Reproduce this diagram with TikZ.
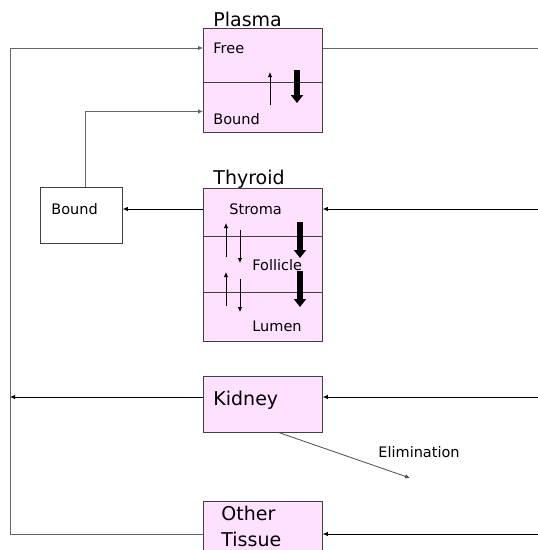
\documentclass[tikz,border=0pt]{standalone}
\usepackage{fontspec}
\setmainfont{DejaVu Sans}
\usepackage{xcolor}
\usetikzlibrary{arrows.meta,positioning}
\definecolor{organpink}{RGB}{255,224,255}

\begin{document}
\begin{tikzpicture}[x=1pt, y=-1pt, line width=0.8pt, >={Latex[length=5pt,width=4.5pt]},
    organ/.style={rectangle, draw=black!75, fill=organpink, minimum width=119pt, inner sep=0pt},
    side/.style={font=\fontsize{14.5}{17}\selectfont, inner sep=0pt},
    title/.style={font=\fontsize{19}{26}\selectfont, inner sep=0pt},
    bulk/.style={line width=5.5pt, -{Triangle[length=8pt,width=12pt]}}]

    \useasboundingbox (0,0) rectangle (538,550);
    \clip (0,0) rectangle (538,550);

    % Nodes
    \node[organ, minimum height=104pt, anchor=north west] (plasma) at (203,28) {};
    \node[organ, minimum height=153pt, below=55pt of plasma] (thyroid) {};
    \node[organ, minimum height=56pt, below=34pt of thyroid] (kidney) {};
    \node[organ, minimum height=76pt, below=69pt of kidney] (other) {};
    \node[rectangle, draw=black!75, minimum width=82pt, minimum height=56pt, anchor=north west] (bound) at (40,187) {};

    % Compartment lines
    \draw[black!75] ([yshift=-54pt]plasma.north west) -- ([yshift=-54pt]plasma.north east);
    \draw[black!75] ([yshift=-49pt]thyroid.north west) -- ([yshift=-49pt]thyroid.north east);
    \draw[black!75] ([yshift=-105pt]thyroid.north west) -- ([yshift=-105pt]thyroid.north east);

    % Labels
    \node[title, anchor=base west] (plasmalbl) at (213,26) {Plasma};
    \node[title, anchor=base west] (thyroidlbl) at (213,184) {Thyroid};
    \node[side, anchor=west] (free) at (213,48) {Free};
    \node[side, anchor=west] (pbound) at (213,119) {Bound};
    \node[side, anchor=west] (boundlbl) at (51,209) {Bound};
    \node[side, anchor=west] (stroma) at (229,209) {Stroma};
    \node[side, anchor=west] (follicle) at (252,265) {Follicle};
    \node[side, anchor=west] (lumen) at (252,326) {Lumen};
    \node[title, anchor=west] (kidneylbl) at (213,400) {Kidney};
    \node[title, anchor=north west, align=left] (otherlbl) at (221,506) {Other\\Tissue};
    \node[side, anchor=west] (elimlbl) at (378,452) {Elimination};

    % Edge points
    \coordinate (looptop) at (10,48);
    \coordinate (loopbot) at (10,534);
    \coordinate (rim) at (538,0);
    \coordinate (elim) at (410,478);

    % Circulation
    \draw[black!60] (other.west |- loopbot) -- (loopbot) -- (looptop);
    \draw[black!60, ->] (looptop) -- (plasma.west |- looptop);
    \draw[black!60] (plasma.east |- free) -- (rim |- free);
    \draw[black!60, ->] ([xshift=4pt]bound.north) |- ([yshift=-31pt]plasma.west);
    \draw[->] (thyroid.west |- stroma) -- (bound.east |- stroma);
    \draw[<-] (thyroid.east |- stroma) -- (rim |- stroma);
    \draw[->] ([yshift=7pt]kidney.west) coordinate (kw) -- (kw -| looptop);
    \draw[<-] ([yshift=7pt]kidney.east) coordinate (ke) -- (ke -| rim);
    \draw[<-] (other.east |- loopbot) -- (rim |- loopbot);
    \draw[black!70, ->] ([xshift=15.5pt]kidney.south) -- (elim);

    % Exchange inside compartments
    \draw[->] (270,105) -- (270,72);
    \draw[bulk] (297,70) -- (297,103);
    \foreach \dy in {0,49} {
      \draw[->] (226,257+\dy) -- (226,223+\dy);
      \draw[->] (240,230+\dy) -- (240,263+\dy);
      \draw[bulk] (300,222+\dy) -- (300,258+\dy);
    }

\end{tikzpicture}
\end{document}
